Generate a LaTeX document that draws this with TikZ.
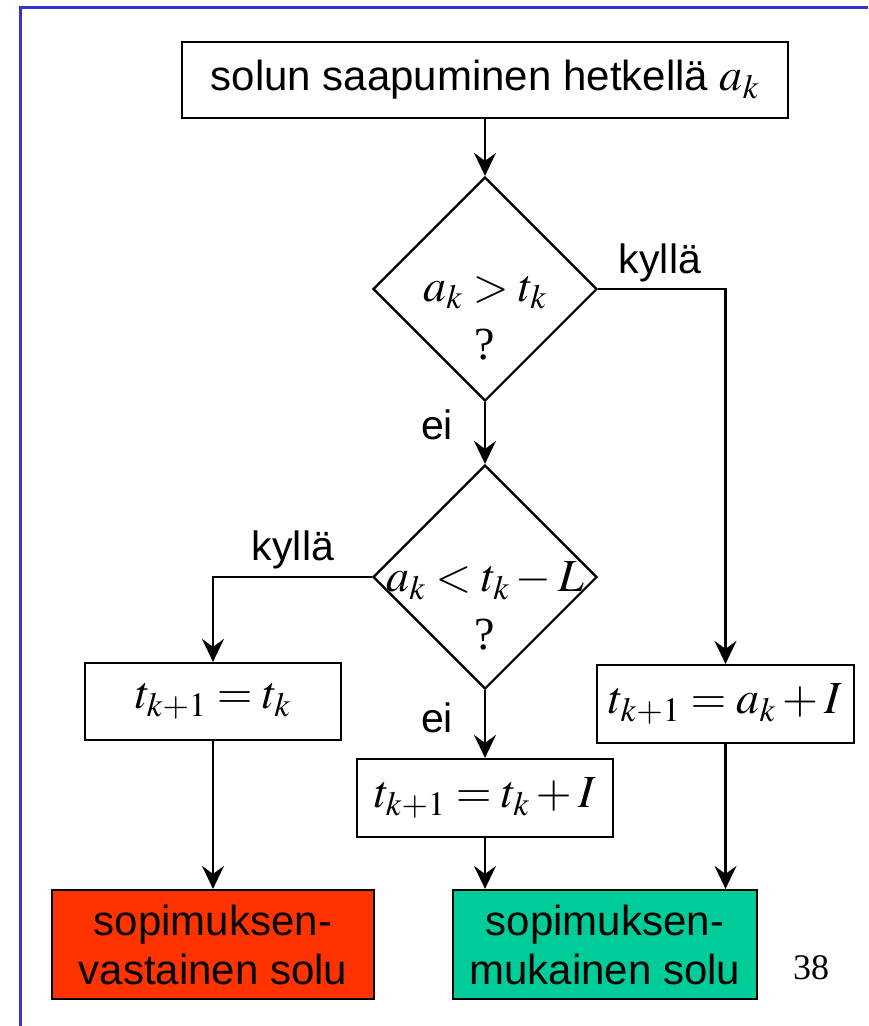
\documentclass[tikz,border=0pt]{standalone}
\usepackage{mathptmx}
\usepackage[no-math]{fontspec}
\setmainfont{Liberation Sans}
\newfontfamily\timesfont{Liberation Serif}
\usetikzlibrary{shapes.geometric,arrows.meta}
\definecolor{frameblue}{RGB}{51,51,204}
\definecolor{cellred}{RGB}{255,51,0}
\definecolor{cellgreen}{RGB}{0,204,153}

\begin{document}
\begin{tikzpicture}[x=1pt,y=-1pt,
        box/.style={draw,line width=2.2pt,inner sep=0pt,align=center,font=\fontsize{46}{52}\selectfont},
        txtbox/.style={box,font=\fontsize{42}{49}\selectfont},
        test/.style={diamond,draw,line width=2.2pt,shape aspect=1,inner sep=0pt,minimum width=224pt,minimum height=224pt},
        qtext/.style={align=center,inner sep=0pt,font=\fontsize{46}{58}\selectfont},
        answer/.style={inner sep=0pt,font=\fontsize{41}{46}\selectfont},
        arr/.style={line width=2.2pt,-{Stealth[length=23pt,width=22pt,inset=8pt]}}]
    \useasboundingbox (0,0) rectangle (868,1026);

    % frame of the slide
    \draw[frameblue,line width=3pt] (868,7) -- (20,7) -- (20,1026);

    % arrival of a cell
    \node[txtbox,minimum width=606pt,minimum height=76pt] (arrive) at (485,80) {solun saapuminen hetkellä {\fontsize{46}{52}\selectfont$a_k$}};

    % the two tests
    \node[test] (late) at (485,289) {};
    \node[qtext] (lateq) at (485,318) {$a_k > t_k$\\{\timesfont ?}};
    \node[test] (early) at (485,577) {};
    \node[qtext] (earlyq) at (485,606) {$a_k < t_k - L$\\{\timesfont ?}};

    % updates of t
    \node[box,minimum width=256pt,minimum height=77pt] (keep) at (213,701.5) {$t_{k+1} = t_k$};
    \node[box,minimum width=256pt,minimum height=78pt] (step) at (485,798) {$t_{k+1} = t_k + I$};
    \node[box,minimum width=257pt,minimum height=78pt] (reset) at (725.5,704) {$t_{k+1} = a_k + I$};

    % outcomes
    \node[txtbox,fill=cellred,minimum width=322pt,minimum height=109pt] (bad) at (213,944.5) {sopimuksen-\\vastainen solu};
    \node[txtbox,fill=cellgreen,minimum width=304pt,minimum height=109pt] (good) at (605,944.5) {sopimuksen-\\mukainen solu};

    % answers
    \node[answer] (yesA) at (660,263) {kyllä};
    \node[answer] (noA) at (437,425) {ei};
    \node[answer] (yesB) at (293,550) {kyllä};
    \node[answer] (noB) at (437,718) {ei};

    \node[inner sep=0pt,font=\timesfont\fontsize{36}{40}\selectfont] (page) at (811,968) {38};

    % Edges
    \draw[arr] (arrive) -- (late);
    \draw[arr] (late) -- (early);
    \draw[arr] (late.east) -| (reset.north);
    \draw[arr] (early.west) -| (keep.north);
    \draw[arr] (early) -- (step);
    \draw[arr] (keep) -- (bad);
    \draw[arr] (step.south) -- (step.south |- good.north);
    \draw[arr] (reset.south) -- (reset.south |- good.north);
\end{tikzpicture}
\end{document}
